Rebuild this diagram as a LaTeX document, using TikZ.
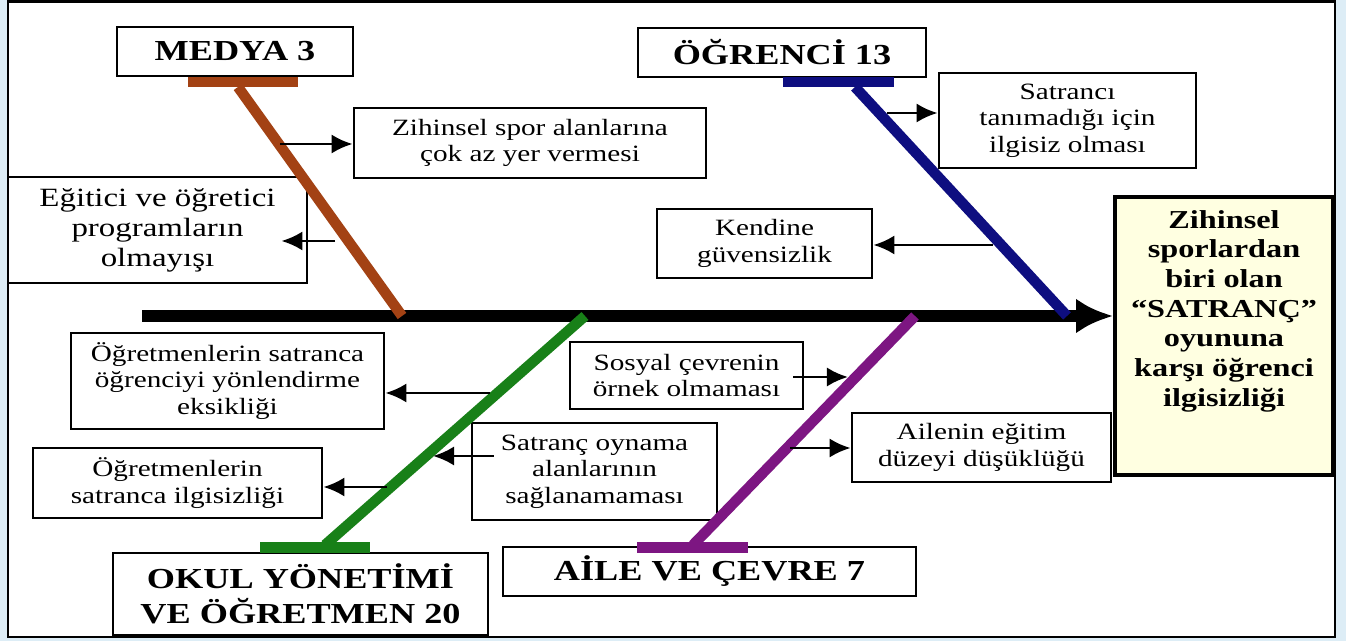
\documentclass[tikz,border=0pt]{standalone}
\usepackage{fontspec}
\setmainfont{Liberation Serif}[FakeStretch=1.25]
\usetikzlibrary{arrows.meta,positioning}

\newcommand{\pxl}{0.02cm}

\definecolor{fb-BackColor}{RGB}{221,237,246}
\definecolor{fb-EffectColor}{RGB}{255,255,225}
\definecolor{fb-MediaColor}{RGB}{163,66,20}
\definecolor{fb-StudentColor}{RGB}{14,14,128}
\definecolor{fb-SchoolColor}{RGB}{24,128,24}
\definecolor{fb-FamilyColor}{RGB}{125,22,130}
\tikzstyle{fb-box-base}=[rectangle,
                         draw=black,
                         line width=1.6pt,
                         fill=white,
                         text centered,
                         align=center,
                         inner sep=1pt,
                        ]
\tikzstyle{fb-cause}=[fb-box-base,
                      font=\fontsize{13.3}{15}\selectfont]
\tikzstyle{fb-category}=[fb-box-base,
                         font=\bfseries\fontsize{16.5}{20}\selectfont]
\tikzstyle{fb-effect}=[fb-box-base,
                       line width=2.4pt,
                       fill={fb-EffectColor}]
\tikzstyle{fb-effect-text}=[align=center, inner sep=0pt,
                            font=\bfseries\fontsize{14.7}{16.9}\selectfont]
\tikzstyle{fb-bone}=[line width=6pt]
\tikzstyle{fb-spine}=[line width=6.8pt, -{Latex[length=21pt,width=20pt]}]
\tikzstyle{fb-arrow}=[line width=1.7pt, -{Latex[length=12pt,width=11pt]}]

\begin{document}
\begin{tikzpicture}[x=0.02cm, y=-0.02cm]
    % Frame
    % --------------------------------------------------------------------------
    \useasboundingbox (0,0) rectangle (1346,641);
    \fill[fb-BackColor] (0,0) rectangle (1346,641);
    \draw[line width=1.4pt, fill=white] (8,1.5) rectangle (1335,637);

    % Categories
    % --------------------------------------------------------------------------
    \node at (235,51.5)  (medya)   [fb-category, minimum width=236*\pxl, minimum height=49*\pxl] {MEDYA 3};
    \node at (782,52.5)  (ogrenci) [fb-category, minimum width=288*\pxl, minimum height=49*\pxl] {ÖĞRENCİ 13};
    \node at (300.5,594) (okul)    [fb-category, minimum width=375*\pxl, minimum height=82*\pxl] {OKUL YÖNETİMİ\\VE ÖĞRETMEN 20};
    \node at (709.5,571.5) (aile)  [fb-category, minimum width=413*\pxl, minimum height=49*\pxl] {AİLE VE ÇEVRE 7};

    % Effect
    % --------------------------------------------------------------------------
    \node at (1224,336) (effect) [fb-effect, minimum width=218*\pxl, minimum height=278*\pxl] {};
    \node (effect_text) [fb-effect-text, below=0.3cm of effect.north] {Zihinsel\\sporlardan\\biri olan\\“SATRANÇ”\\oyununa\\karşı öğrenci\\ilgisizliği};

    % Causes
    % --------------------------------------------------------------------------
    \node at (530,143)     (zihin)     [fb-cause, minimum width=352*\pxl, minimum height=70*\pxl] {Zihinsel spor alanlarına\\çok az yer vermesi};
    \node at (157.5,230)   (egitici)   [fb-cause, minimum width=299*\pxl, minimum height=106*\pxl, font=\fontsize{15}{17}\selectfont] {Eğitici ve öğretici\\programların\\olmayışı};
    \node at (1067.5,120.5) (satranci) [fb-cause, minimum width=257*\pxl, minimum height=95*\pxl] {Satrancı\\tanımadığı için\\ilgisiz olması};
    \node at (764.5,243.5) (kendine)   [fb-cause, minimum width=215*\pxl, minimum height=69*\pxl] {Kendine\\güvensizlik};

    \node at (227.5,381)   (ogretmen_a) [fb-cause, minimum width=313*\pxl, minimum height=96*\pxl] {Öğretmenlerin satranca\\öğrenciyi yönlendirme\\eksikliği};
    \node at (177.5,483)   (ogretmen_b) [fb-cause, minimum width=289*\pxl, minimum height=70*\pxl] {Öğretmenlerin\\satranca ilgisizliği};
    \node at (594.5,471.5) (satranc)    [fb-cause, minimum width=245*\pxl, minimum height=97*\pxl] {Satranç oynama\\alanlarının\\sağlanamaması};
    \node at (686.5,375.5) (sosyal)     [fb-cause, minimum width=233*\pxl, minimum height=67*\pxl] {Sosyal çevrenin\\örnek olmaması};
    \node at (981.5,447.5) (ailenin)    [fb-cause, minimum width=259*\pxl, minimum height=69*\pxl] {Ailenin eğitim\\düzeyi düşüklüğü};

    % Spine
    % --------------------------------------------------------------------------
    \coordinate (spine_tail) at (142,316);
    \draw[fb-spine] (spine_tail) -- (spine_tail -| effect.west);

    % Bones
    % --------------------------------------------------------------------------
    \fill[fb-MediaColor]   (188,77) rectangle (298,87);
    \fill[fb-StudentColor] (783,77) rectangle (894,87);
    \fill[fb-SchoolColor]  (260,542) rectangle (370,553);
    \fill[fb-FamilyColor]  (637,542) rectangle (748,553);

    \coordinate (medya_top)   at (238,87);
    \coordinate (medya_end)   at (402,316);
    \coordinate (ogrenci_top) at (855,87);
    \coordinate (ogrenci_end) at (1067,316);
    \coordinate (okul_bot)    at (325,545);
    \coordinate (okul_end)    at (585,316);
    \coordinate (aile_bot)    at (693,545);
    \coordinate (aile_end)    at (915,316);

    \draw[fb-bone, fb-MediaColor]   (medya_top)   -- (medya_end);
    \draw[fb-bone, fb-StudentColor] (ogrenci_top) -- (ogrenci_end);
    \draw[fb-bone, fb-SchoolColor]  (okul_bot)    -- (okul_end);
    \draw[fb-bone, fb-FamilyColor]  (aile_bot)    -- (aile_end);

    % Arrows
    % --------------------------------------------------------------------------
    \coordinate (m_zihin)     at (280,144);
    \coordinate (m_egitici)   at (335,241);
    \coordinate (o_satranci)  at (887,113);
    \coordinate (o_kendine)   at (993,245);
    \coordinate (k_ogretmen_a) at (490,393);
    \coordinate (k_ogretmen_b) at (387,487);
    \coordinate (k_satranc)   at (433,456);
    \coordinate (a_sosyal)    at (848,377);
    \coordinate (a_ailenin)   at (790,448);

    \draw[fb-arrow] (m_zihin)    -- (m_zihin -| zihin.west);
    \draw[fb-arrow, shorten >=-0.54cm] (m_egitici) -- (m_egitici -| egitici.east);
    \draw[fb-arrow] (o_satranci) -- (o_satranci -| satranci.west);
    \draw[fb-arrow] (o_kendine)  -- (o_kendine -| kendine.east);

    \draw[fb-arrow] (k_ogretmen_a) -- (k_ogretmen_a -| ogretmen_a.east);
    \draw[fb-arrow] (k_ogretmen_b) -- (k_ogretmen_b -| ogretmen_b.east);
    \draw[fb-arrow, shorten <=-0.46cm] (k_satranc -| satranc.west) -- (k_satranc);
    \draw[fb-arrow, shorten <=-0.22cm] (a_sosyal -| sosyal.east) -- (a_sosyal);
    \draw[fb-arrow] (a_ailenin)  -- (a_ailenin -| ailenin.west);

\end{tikzpicture}
\end{document}
